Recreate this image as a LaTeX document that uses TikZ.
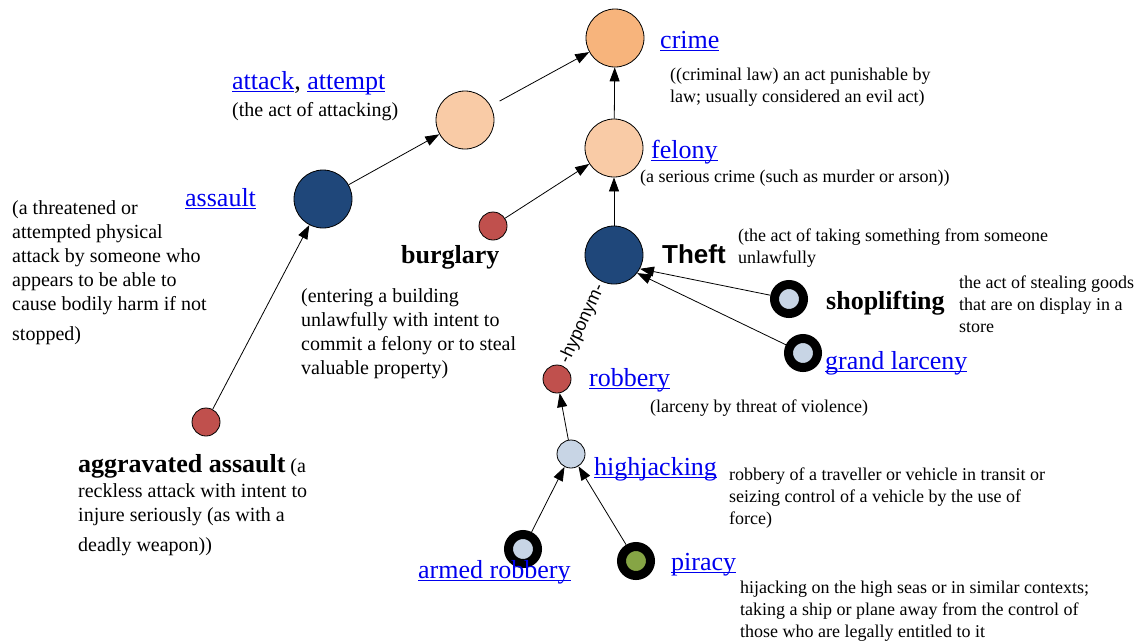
\documentclass[tikz,border=0pt]{standalone}
\usepackage{fontspec}
\setmainfont{Liberation Serif}
\newfontfamily\arialfont{Liberation Sans}
\usetikzlibrary{arrows.meta}
\definecolor{crimeC}{HTML}{F7B47C}
\definecolor{peach}{HTML}{F9CBA6}
\definecolor{darkblue}{HTML}{1F477A}
\definecolor{redC}{HTML}{C0504D}
\definecolor{lightblue}{HTML}{C8D5E5}
\definecolor{greenC}{HTML}{86A545}
\definecolor{linkblue}{HTML}{0000EE}
\newcommand\ulk[1]{\setbox0\hbox{#1}\rlap{\rule[-2.8pt]{\wd0}{1.3pt}}\box0}
\newcommand\lk[1]{{\color{linkblue}\ulk{#1}}}
\newcommand\stk[1]{\vtop{\def\\{\egroup\hbox\bgroup}\def\lgap##1{\egroup\vskip##1\hbox\bgroup}\hbox\bgroup#1\egroup}}
\begin{document}
\begin{tikzpicture}[x=1pt,y=-1pt,
  big/.style={circle,draw=black,line width=0.8pt,inner sep=0pt,minimum size=58pt},
  sm/.style={circle,draw=black,line width=0.8pt,inner sep=0pt,minimum size=28pt},
  ring/.style={circle,draw=black,line width=9pt,inner sep=0pt,minimum size=29pt},
  arr/.style={-{Triangle[length=14pt,width=10pt]},line width=0.8pt},
  lab/.style={anchor=base west,inner sep=0pt,font=\fontsize{26}{30}\selectfont},
  bt/.style={anchor=base west,inner sep=0pt,font=\fontsize{26}{30}\selectfont\bfseries},
  dtw/.style={anchor=base west,inner sep=0pt,font=\fontsize{20}{24}\selectfont},
  dei/.style={anchor=base west,inner sep=0pt,font=\fontsize{18}{22}\selectfont}]
\useasboundingbox (0,0) rectangle (1140,641);
% circles
\node[big,fill=crimeC] (crime) at (615,38) {};
\node[big,fill=peach] (attack) at (465,120) {};
\node[big,fill=peach] (felony) at (614,148) {};
\node[big,fill=darkblue] (assault) at (323,199) {};
\node[big,fill=darkblue] (theft) at (614,255) {};
\node[sm,fill=redC] (burglary) at (493,226) {};
\node[sm,fill=redC] (aggr) at (206,422) {};
\node[sm,fill=redC] (robbery) at (557,379) {};
\node[sm,fill=lightblue] (highj) at (571,454) {};
\node[ring,fill=lightblue] (shop) at (789,299) {};
\node[ring,fill=lightblue] (grand) at (803,353) {};
\node[ring,fill=lightblue] (armed) at (523,549) {};
\node[ring,fill=greenC] (piracy) at (636,561) {};
% connectors
\draw[arr,shorten <=10pt] (attack) -- (crime);
\draw[arr] (felony) -- (crime);
\draw[arr] (assault) -- (attack);
\draw[arr] (burglary) -- (felony);
\draw[arr] (theft) -- (felony);
\draw[arr] (aggr) -- (assault);
\draw[arr] (shop) -- (theft.-28);
\draw[arr] (grand) -- (theft.-38);
\draw[arr] (highj) -- (robbery);
\draw[arr] (armed) -- (highj);
\draw[arr] (piracy) -- (highj);
\path (robbery) -- node[sloped,inner sep=0pt,font=\arialfont\fontsize{18}{20}\selectfont] (hyp) {-hyponym-} (theft);
% labels
\node[lab] (tcrime) at (660,48) {\lk{crime}};
\node[dei] (dcrime) at (670,80) {\stk{((criminal law) an act punishable by\\law; usually considered an evil act)}};
\node[lab] (tattack) at (232,89) {\lk{attack}, \lk{attempt}};
\node[dtw] (dattack) at (232,116) {(the act of attacking)};
\node[lab] (tfelony) at (651,158) {\lk{felony}};
\node[dei] (dfelony) at (640,182) {(a serious crime (such as murder or arson))};
\node[lab] (tassault) at (185,206) {\lk{assault}};
\node[dtw] (dassault) at (12,214) {\stk{(a threatened or\\attempted physical\\attack by someone who\\appears to be able to\\cause bodily harm if not\lgap{6pt}stopped)}};
\node[bt] (tburglary) at (401,263) {burglary};
\node[dtw] (dburglary) at (301,302) {\stk{(entering a building\\unlawfully with intent to\\commit a felony or to steal\\valuable property)}};
\node[anchor=base west,inner sep=0pt,font=\arialfont\bfseries\fontsize{26}{30}\selectfont] (ttheft) at (662,263) {Theft};
\node[dei] (dtheft) at (738,241) {\stk{(the act of taking something from someone\\unlawfully}};
\node[bt] (tshop) at (826,309) {shoplifting};
\node[dei] (dshop) at (959,288) {\stk{the act of stealing goods\\that are on display in a\\store}};
\node[lab] (tgrand) at (825,369) {\lk{grand larceny}};
\node[lab] (trobbery) at (589,386) {\lk{robbery}};
\node[dei] (drobbery) at (650,412) {(larceny by threat of violence)};
\node[lab] (thighj) at (594,475) {\lk{highjacking}};
\node[dei] (dhighj) at (729,480) {\stk{robbery of a traveller or vehicle in transit or\\seizing control of a vehicle by the use of\\force)}};
\node[lab] (tarmed) at (418,578) {\lk{armed robbery}};
\node[lab] (tpiracy) at (671,570) {\lk{piracy}};
\node[dei] (dpiracy) at (740,593) {\stk{hijacking on the high seas or in similar contexts;\\taking a ship or plane away from the control of\\those who are legally entitled to it}};
\node[dtw] (daggr) at (78,472) {\stk{{\fontsize{26}{30}\selectfont\bfseries aggravated assault} (a\lgap{1pt}reckless attack with intent to\\injure seriously (as with a\lgap{6pt}deadly weapon))}};
\end{tikzpicture}
\end{document}
